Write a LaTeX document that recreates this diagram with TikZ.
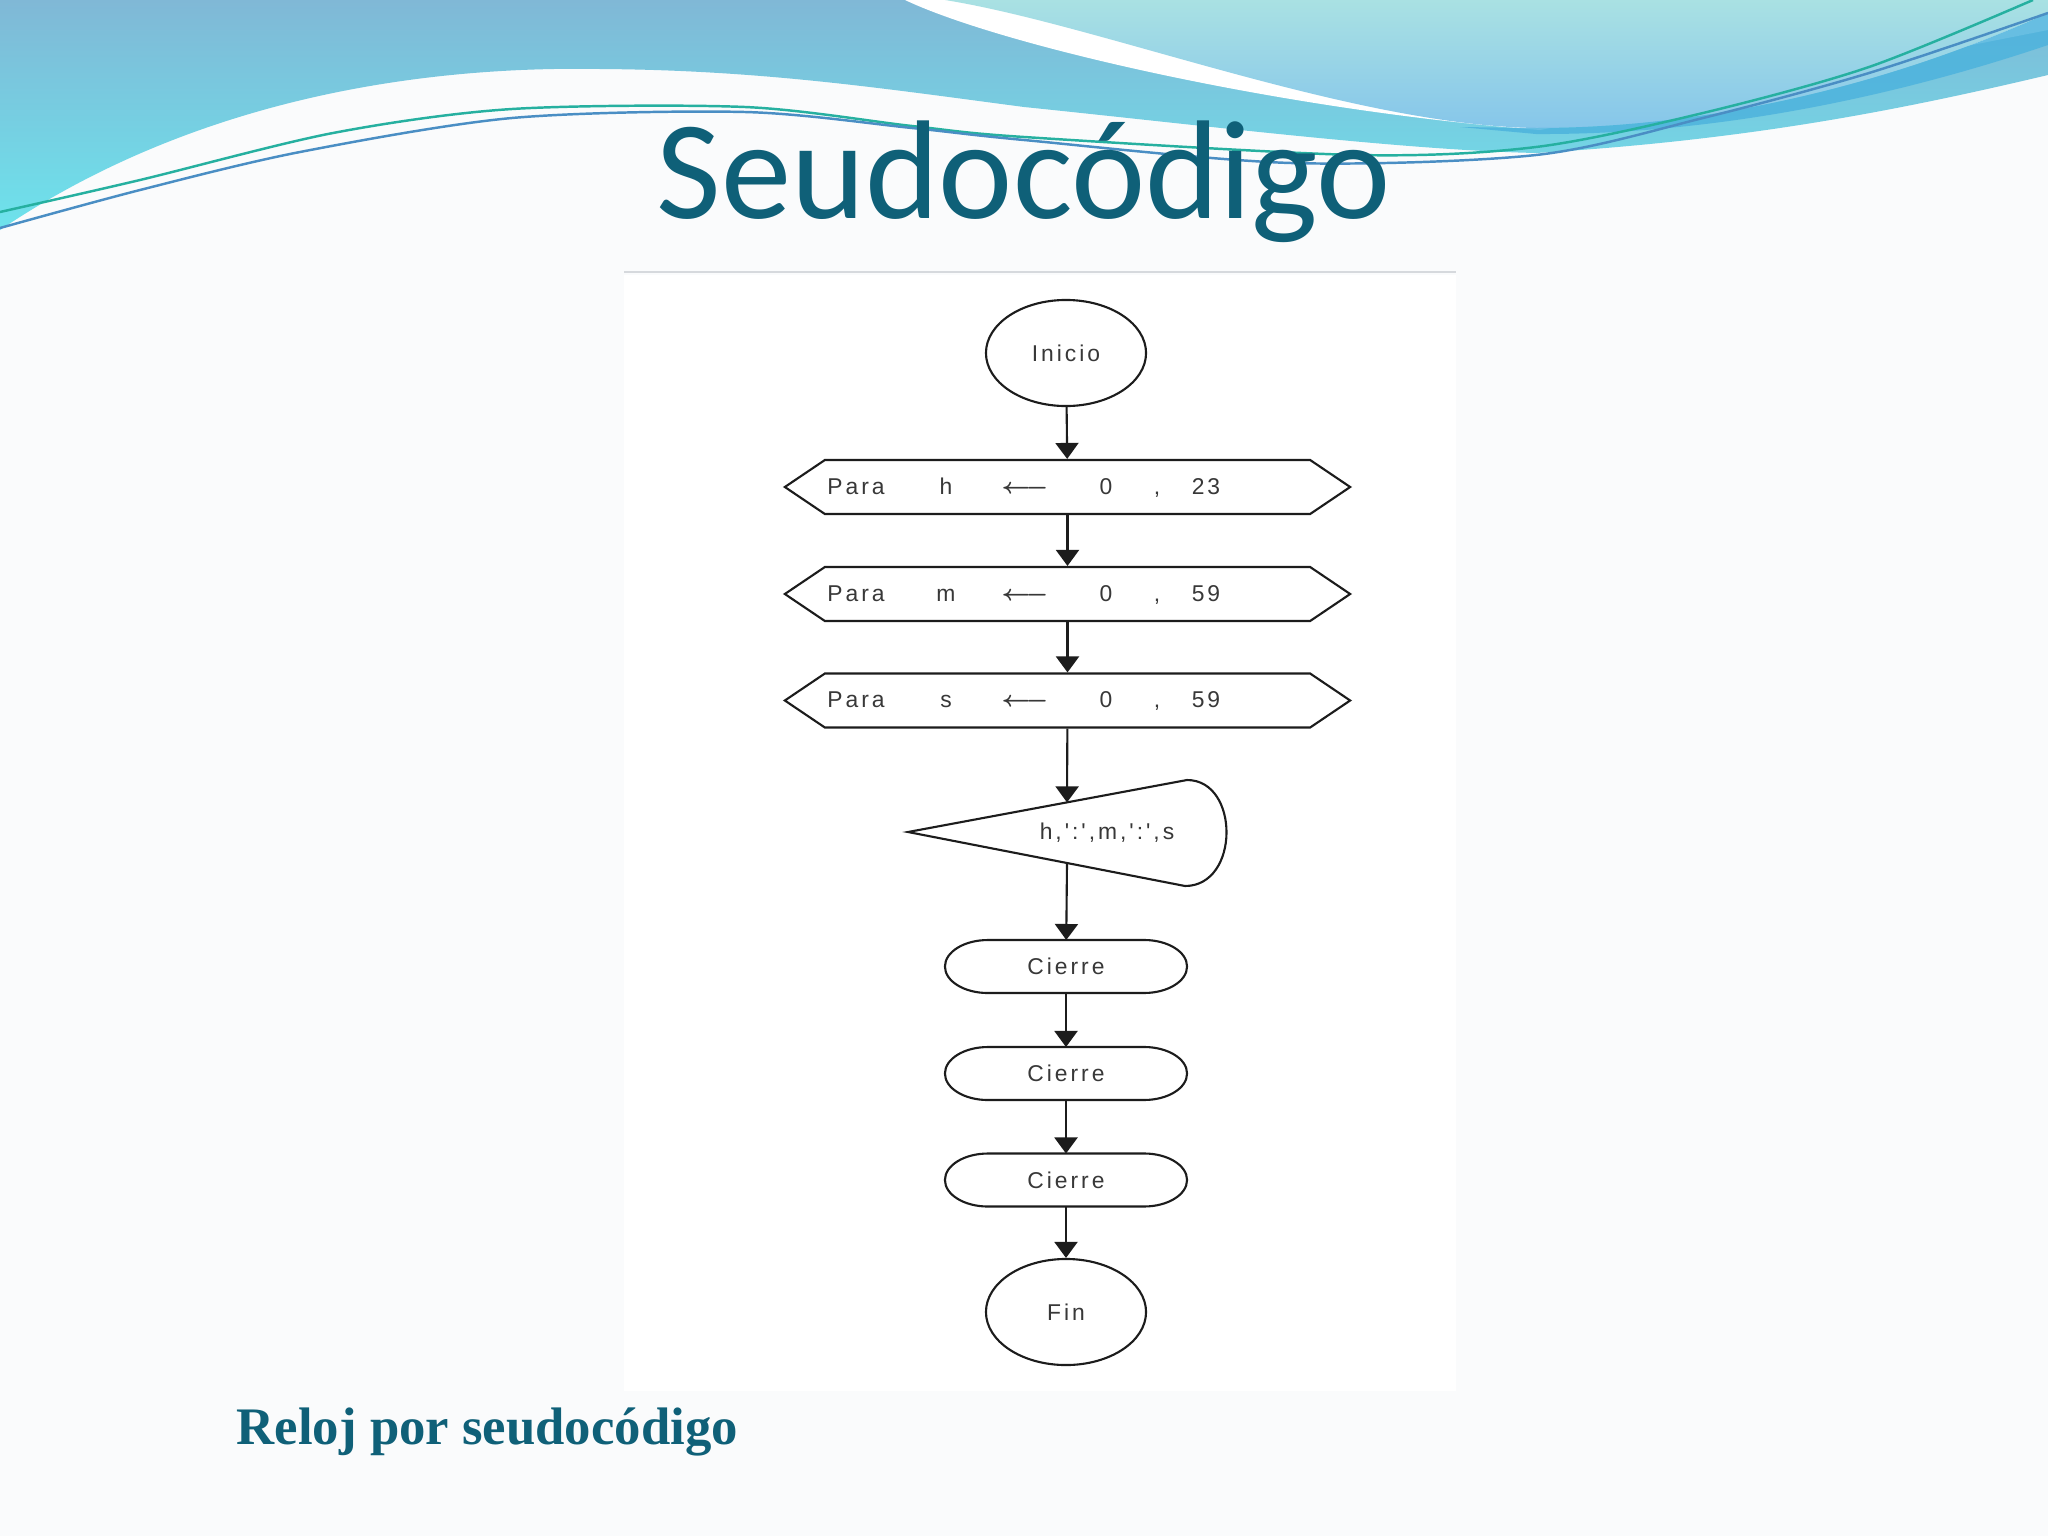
\documentclass[tikz,border=0pt]{standalone}
\usepackage{fontspec}
\setmainfont{Liberation Sans}
\newfontfamily\titlefont{Carlito}
\newfontfamily\subfont{Liberation Serif}
\newfontfamily\flowfont[LetterSpace=13]{Liberation Sans}
\usetikzlibrary{shapes.geometric, shapes.symbols, arrows.meta, calc, positioning}

\definecolor{pagebg}{HTML}{FAFBFC}
\definecolor{bluetop}{HTML}{80B8D6}
\definecolor{cyanbot}{HTML}{6DE3EC}
\definecolor{aquatop}{HTML}{A9E1E3}
\definecolor{aquabot}{HTML}{86C6EA}
\definecolor{ribbon}{HTML}{4DB3DD}
\definecolor{lineA}{HTML}{26B0A0}
\definecolor{lineB}{HTML}{4A8EC4}
\definecolor{sepgray}{HTML}{D6D9DD}
\definecolor{inkline}{HTML}{1C1C1C}
\definecolor{flowtext}{HTML}{383838}
\definecolor{titleteal}{HTML}{0F6078}

\newcommand{\flowsize}{\flowfont\fontsize{6.5}{8}\selectfont}
\newcommand{\asigna}{\mbox{\boldmath$\longleftarrow$}}

\begin{document}
\begin{tikzpicture}[
  x=0.01cm, y=0.01cm,
  flowline/.style={draw=inkline, line width=0.6pt},
  startend/.style={
    flowline, fill=white, ellipse,
    minimum width=1.6cm, minimum height=1.06cm, inner sep=0pt,
    font=\flowsize, text=flowtext
    },
  parabox/.style={
    flowline, fill=white, signal, signal to=west and east,
    signal pointer angle=68,
    minimum width=5.65cm, minimum height=0.54cm, inner sep=0pt
    },
  lbl/.style={font=\flowsize, text=flowtext, inner sep=0pt, anchor=base},
  cierrebox/.style={
    minimum width=2.42cm, minimum height=0.53cm, inner sep=0pt, outer sep=0pt,
    font=\flowsize, text=flowtext
    },
  flecha/.style={flowline, -{Triangle[length=0.16cm, width=0.23cm]}}
]

\useasboundingbox (0,0) rectangle (2048,-1536);
\fill[pagebg] (0,0) rectangle (2048,-1536);

% waves on top
\shade[top color=bluetop, bottom color=cyanbot]
  (0,0) -- (2048,0) -- (2048,-75)
  .. controls (1900,-110) and (1750,-140) .. (1536,-153)
  .. controls (1400,-150) and (1200,-125) .. (1024,-107)
  .. controls (880,-88) and (760,-70) .. (600,-69)
  .. controls (430,-66) and (200,-95) .. (0,-230) -- cycle;
\fill[white]
  (905,0) .. controls (1000,-45) and (1280,-110) .. (1540,-130)
  -- (2048,-30) -- (2048,0) -- cycle;
\shade[top color=aquatop, bottom color=aquabot]
  (945,0) .. controls (1100,-25) and (1350,-125) .. (1536,-128)
  .. controls (1720,-128) and (1900,-80) .. (2048,-13)
  -- (2048,0) -- cycle;
\fill[ribbon, opacity=0.85]
  (1460,-127) -- (1536,-128)
  .. controls (1720,-128) and (1900,-80) .. (2048,-13)
  -- (2048,-45)
  .. controls (1900,-95) and (1720,-135) .. (1536,-134) -- cycle;
\draw[lineA, line width=0.7pt] plot[smooth] coordinates {
  (0,-212) (140,-180) (333,-133) (512,-109) (745,-107) (912,-126)
  (1024,-137) (1357,-155) (1536,-147) (1703,-113) (1869,-67) (2033,0)};
\draw[lineB, line width=0.7pt] plot[smooth] coordinates {
  (0,-228) (140,-190) (300,-152) (512,-118) (745,-112) (912,-128)
  (1024,-140) (1291,-163) (1536,-155) (1703,-118) (1869,-73) (2048,-13)};

% title
\node[font=\titlefont\fontsize{40}{48}\selectfont, text=titleteal,
  anchor=base, inner sep=0pt] (titulo) at (1024,-218) {Seudocódigo};

% picture frame
\draw[sepgray, line width=0.6pt] (624,-272) -- (1456,-272);
\fill[white] (624,-275) rectangle (1456,-1391);

% flowchart
\node[startend] (inicio) at (1066,-353) {Inicio};

\foreach \i/\yy/\var/\tope in {1/487/h/23, 2/594/m/59, 3/700.5/s/59} {
  \node[parabox] (para\i) at (1067.5,-\yy) {};
  \node[lbl] (para\i-kw) at (856,-\yy-7) {Para};
  \node[lbl] (para\i-var) at (946,-\yy-7) {\var};
  \node[lbl] (para\i-asig) at (1025,-\yy-6) {\asigna};
  \node[lbl] (para\i-ini) at (1106,-\yy-7) {0};
  \node[lbl] (para\i-sep) at (1157,-\yy-7) {,};
  \node[lbl] (para\i-fin) at (1206,-\yy-7) {\tope};
}

\node[lbl, anchor=center] (salida) at (1107,-833) {h,':',m,':',s};
\draw[flowline] (908,-832) -- (1187,-780)
  .. controls (1240,-780) and (1240,-886) .. (1185,-886) -- cycle;
\coordinate (salidaN) at (1067,-802.4);
\coordinate (salidaS) at (1067,-863);

\foreach \i/\yy in {1/966.5, 2/1073.5, 3/1180} {
  \node[cierrebox] (cierre\i) at (1066,-\yy) {Cierre};
  \draw[flowline] ($(cierre\i.north west)+(43,0)$) -- ($(cierre\i.north east)+(-43,0)$)
    arc[start angle=90, end angle=-90, x radius=43, y radius=26.5]
    -- ($(cierre\i.south west)+(43,0)$)
    arc[start angle=270, end angle=90, x radius=43, y radius=26.5] -- cycle;
}

\node[startend] (fin) at (1066,-1312) {Fin};

\draw[flecha] (inicio) -- (para1);
\draw[flecha] (para1) -- (para2);
\draw[flecha] (para2) -- (para3);
\draw[flecha] (para3) -- (salidaN);
\draw[flecha] (salidaS) -- (cierre1);
\draw[flecha] (cierre1) -- (cierre2);
\draw[flecha] (cierre2) -- (cierre3);
\draw[flecha] (cierre3) -- (fin);

% caption
\node[font=\subfont\bfseries\fontsize{15}{18}\selectfont, text=titleteal,
  anchor=base west, inner sep=0pt] (subtitulo) at (236,-1444) {Reloj por seudocódigo};

\end{tikzpicture}
\end{document}
